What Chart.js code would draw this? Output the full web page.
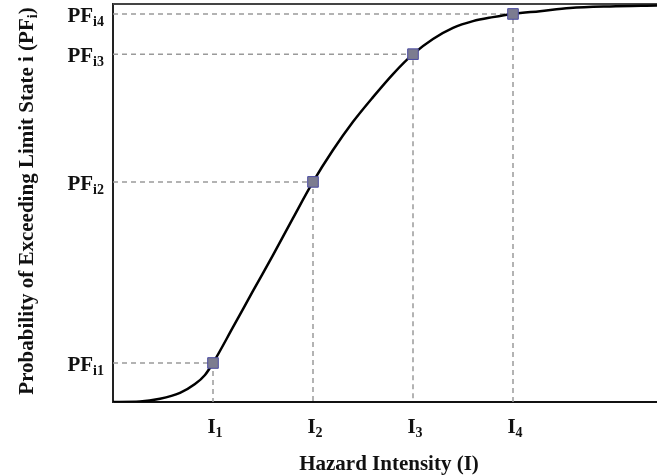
<!DOCTYPE html>
<html>
<head>
<meta charset="utf-8">
<style>
  html, body { margin: 0; padding: 0; background: #fff; }
  canvas { display: block; }
</style>
<script src="https://cdn.jsdelivr.net/npm/chart.js@4.4.0/dist/chart.umd.min.js"></script>
</head>
<body>
<canvas id="fragilityChart" width="657" height="476"></canvas>
<script>
// ---- values ----
// hazard intensity levels I1..I4 and their exceedance probabilities PFi1..PFi4
const intensityLevels = [1, 2, 3, 4];
const intensitySubs = ['1', '2', '3', '4'];
const pfValues = [0.098, 0.553, 0.874, 0.975];
const pfSubs = ['i1', 'i2', 'i3', 'i4'];

// fragility curve
const curveX = [0, 0.27, 0.47, 0.67, 0.82, 0.92, 1.00, 1.20, 1.40, 1.60, 1.80, 2.00,
                2.20, 2.40, 2.60, 2.80, 3.00, 3.20, 3.40, 3.60, 3.80, 4.00, 4.27, 4.57, 4.97, 5.44];
const curveY = [0, 0.001, 0.008, 0.023, 0.045, 0.068, 0.098, 0.188, 0.279, 0.369, 0.462, 0.553,
                0.633, 0.704, 0.766, 0.824, 0.874, 0.912, 0.940, 0.957, 0.967, 0.975, 0.982, 0.990, 0.994, 0.996];

const xMax = 5.44;

// ======================== Datasets ========================

const SERIF = '"Liberation Serif", "Times New Roman", serif';

const guideSets = intensityLevels.map((lvl, i) => ({
    type: 'line',
    data: [{ x: 0, y: pfValues[i] }, { x: lvl, y: pfValues[i] }, { x: lvl, y: 0 }],
    borderColor: '#9a9a9a',
    borderWidth: 1.5,
    borderDash: [5, 4],
    pointRadius: 0,
    tension: 0,
    order: 2
}));

const curveSet = {
    type: 'line',
    data: curveX.map((x, i) => ({ x: x, y: curveY[i] })),
    borderColor: '#000',
    borderWidth: 2.5,
    pointRadius: 0,
    cubicInterpolationMode: 'monotone',
    order: 1
};

const markerSet = {
    type: 'scatter',
    data: intensityLevels.map((lvl, i) => ({ x: lvl, y: pfValues[i] })),
    pointStyle: 'rect',
    pointRadius: 7.5,
    backgroundColor: '#7c7c90',
    borderColor: '#4a4aa0',
    borderWidth: 1,
    order: 0
};

// ======================== Plugins ========================

// top frame line
const topFrame = {
    id: 'topFrame',
    beforeDatasetsDraw(chart) {
        const { ctx, chartArea } = chart;
        ctx.save();
        ctx.strokeStyle = '#444';
        ctx.lineWidth = 2;
        ctx.beginPath();
        ctx.moveTo(chartArea.left, chartArea.top);
        ctx.lineTo(chartArea.right, chartArea.top);
        ctx.stroke();
        ctx.restore();
    }
};

// tick labels and titles with subscripts
const subscriptText = {
    id: 'subscriptText',
    afterDraw(chart) {
        const { ctx, scales: { x, y } } = chart;
        const big = 'bold 21px ' + SERIF;
        const small = 'bold 14px ' + SERIF;
        ctx.save();
        ctx.fillStyle = '#111';
        ctx.textBaseline = 'alphabetic';
        ctx.textAlign = 'left';

        // y ticks: PF with subscript
        y.ticks.forEach((t, i) => {
            const py = y.getPixelForValue(t.value);
            ctx.font = big;
            const w1 = ctx.measureText('PF').width;
            ctx.font = small;
            const w2 = ctx.measureText(pfSubs[i]).width;
            const x0 = y.right - 9 - w1 - w2;
            ctx.font = big;
            ctx.fillText('PF', x0, py + 8);
            ctx.font = small;
            ctx.fillText(pfSubs[i], x0 + w1, py + 12);
        });

        // x ticks: I with subscript
        x.ticks.forEach((t, i) => {
            const px = x.getPixelForValue(t.value);
            ctx.font = big;
            const w1 = ctx.measureText('I').width;
            ctx.font = small;
            const w2 = ctx.measureText(intensitySubs[i]).width;
            const x0 = px + 2 - (w1 + w2) / 2;
            ctx.font = big;
            ctx.fillText('I', x0, x.top + 31);
            ctx.font = small;
            ctx.fillText(intensitySubs[i], x0 + w1, x.top + 35);
        });

        // x title
        ctx.font = 'bold 21px ' + SERIF;
        ctx.textAlign = 'center';
        ctx.fillText('Hazard Intensity (I)', 389, 470);

        // y title (rotated)
        const part1 = 'Probability of Exceeding Limit State i (PF';
        const part2 = 'i';
        const part3 = ')';
        ctx.font = 'bold 21px ' + SERIF;
        const a = ctx.measureText(part1).width;
        const c = ctx.measureText(part3).width;
        ctx.font = 'bold 14px ' + SERIF;
        const b = ctx.measureText(part2).width;
        const total = a + b + c;
        ctx.translate(33, (y.top + y.bottom) / 2 - 2);
        ctx.rotate(-Math.PI / 2);
        ctx.textAlign = 'left';
        let sx = -total / 2;
        ctx.font = 'bold 21px ' + SERIF;
        ctx.fillText(part1, sx, 0);
        sx += a;
        ctx.font = 'bold 14px ' + SERIF;
        ctx.fillText(part2, sx, 4);
        sx += b;
        ctx.font = 'bold 21px ' + SERIF;
        ctx.fillText(part3, sx, 0);
        ctx.restore();
    }
};

// ======================== Chart ========================

Chart.defaults.font.family = SERIF;

new Chart(document.getElementById('fragilityChart').getContext('2d'), {
    type: 'scatter',
    data: { datasets: [markerSet, curveSet, ...guideSets] },
    options: {
        responsive: false,
        animation: false,
        layout: { autoPadding: false, padding: { top: 4, right: 0, left: 0, bottom: 0 } },
        plugins: {
            legend: { display: false },
            tooltip: { enabled: false }
        },
        scales: {
            x: {
                type: 'linear',
                min: 0,
                max: xMax,
                grid: { display: false },
                border: { display: true, color: '#111', width: 2 },
                ticks: { display: false },
                afterBuildTicks: s => { s.ticks = intensityLevels.map(v => ({ value: v })); },
                afterFit: s => { s.height = 74; }
            },
            y: {
                type: 'linear',
                min: 0,
                max: 1,
                grid: { display: false },
                border: { display: true, color: '#222', width: 2 },
                ticks: { display: false },
                afterBuildTicks: s => { s.ticks = pfValues.map(v => ({ value: v })); },
                afterFit: s => { s.width = 113; }
            }
        }
    },
    plugins: [topFrame, subscriptText]
});
</script>
</body>
</html>
